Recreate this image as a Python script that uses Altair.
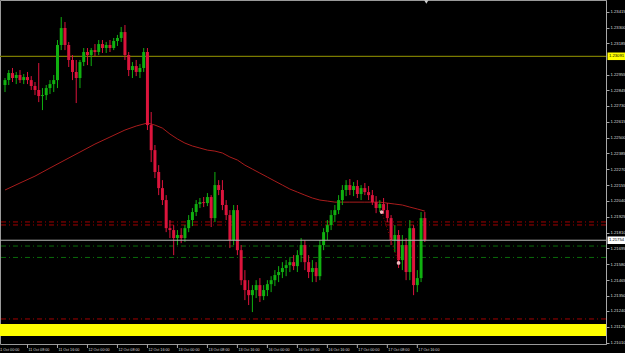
import altair as alt
import pandas as pd

# ---------------- data ----------------
opens = [1.22882, 1.22918, 1.22969, 1.22933, 1.22955, 1.22918, 1.22940, 1.22918, 1.22875, 1.22846,
         1.22802, 1.22809, 1.22860, 1.22889, 1.22918, 1.23173, 1.23296, 1.23173, 1.23064, 1.22977,
         1.22933, 1.23049, 1.23122, 1.23100, 1.23136, 1.23122, 1.23180, 1.23151, 1.23173, 1.23151,
         1.23202, 1.23224, 1.23267, 1.23100, 1.22991, 1.23020, 1.22977, 1.23006, 1.23122, 1.22591,
         1.22409, 1.22250, 1.22133, 1.22046, 1.21842, 1.21828, 1.21770, 1.21792, 1.21770, 1.21842,
         1.21901, 1.21959, 1.22017, 1.22031, 1.22024, 1.22068, 1.21915, 1.22155, 1.22119, 1.22010,
         1.21937, 1.21755, 1.21973, 1.21682, 1.21464, 1.21392, 1.21355, 1.21392, 1.21428, 1.21348,
         1.21392, 1.21435, 1.21464, 1.21501, 1.21523, 1.21552, 1.21573, 1.21595, 1.21566, 1.21646,
         1.21719, 1.21595, 1.21523, 1.21552, 1.21493, 1.21719, 1.21813, 1.21864, 1.21937, 1.21973,
         1.22046, 1.22119, 1.22155, 1.22119, 1.22148, 1.22090, 1.22133, 1.22104, 1.22082, 1.22031,
         1.21988, 1.22017, 1.21973, 1.21915, 1.21755, 1.21792, 1.21610, 1.21719, 1.21523, 1.21842,
         1.21428, 1.21479, 1.21915]
highs = [1.22933, 1.22991, 1.23006, 1.22977, 1.22991, 1.22962, 1.22977, 1.22947, 1.22904, 1.23042,
         1.22860, 1.22882, 1.22918, 1.22955, 1.23209, 1.23376, 1.23340, 1.23195, 1.23100, 1.23064,
         1.23064, 1.23151, 1.23151, 1.23151, 1.23180, 1.23209, 1.23209, 1.23195, 1.23209, 1.23224,
         1.23246, 1.23304, 1.23318, 1.23122, 1.23049, 1.23064, 1.23035, 1.23151, 1.23151, 1.22686,
         1.22446, 1.22300, 1.22191, 1.22082, 1.21901, 1.21864, 1.21828, 1.21842, 1.21864, 1.21937,
         1.21988, 1.22046, 1.22061, 1.22068, 1.22097, 1.22082, 1.22250, 1.22191, 1.22191, 1.22046,
         1.21973, 1.22010, 1.22010, 1.21719, 1.21537, 1.21464, 1.21428, 1.21464, 1.21479, 1.21428,
         1.21464, 1.21493, 1.21537, 1.21566, 1.21595, 1.21610, 1.21624, 1.21646, 1.21682, 1.21770,
         1.21755, 1.21646, 1.21610, 1.21595, 1.21755, 1.21842, 1.21901, 1.21973, 1.22010, 1.22082,
         1.22155, 1.22191, 1.22199, 1.22177, 1.22191, 1.22155, 1.22170, 1.22148, 1.22119, 1.22075,
         1.22046, 1.22061, 1.22024, 1.21937, 1.21864, 1.21828, 1.21792, 1.21770, 1.21901, 1.21864,
         1.21537, 1.21959, 1.21959]
lows = [1.22831, 1.22882, 1.22904, 1.22889, 1.22897, 1.22889, 1.22889, 1.22846, 1.22809, 1.22758,
        1.22700, 1.22773, 1.22817, 1.22831, 1.22860, 1.23136, 1.23136, 1.23013, 1.22918, 1.22751,
        1.22860, 1.23020, 1.23027, 1.23020, 1.23093, 1.23100, 1.23115, 1.23115, 1.23122, 1.23136,
        1.23166, 1.23195, 1.23064, 1.22947, 1.22933, 1.22947, 1.22933, 1.22977, 1.22555, 1.22322,
        1.22206, 1.22082, 1.22010, 1.21813, 1.21770, 1.21646, 1.21719, 1.21733, 1.21741, 1.21813,
        1.21857, 1.21930, 1.21988, 1.21995, 1.22002, 1.21850, 1.21886, 1.22082, 1.21973, 1.21901,
        1.21697, 1.21719, 1.21646, 1.21428, 1.21319, 1.21283, 1.21232, 1.21334, 1.21305, 1.21319,
        1.21348, 1.21377, 1.21421, 1.21450, 1.21479, 1.21493, 1.21523, 1.21537, 1.21523, 1.21595,
        1.21537, 1.21479, 1.21450, 1.21450, 1.21464, 1.21682, 1.21755, 1.21828, 1.21886, 1.21944,
        1.22010, 1.22075, 1.22082, 1.22075, 1.22061, 1.22046, 1.22082, 1.22046, 1.22010, 1.21951,
        1.21959, 1.21944, 1.21886, 1.21719, 1.21668, 1.21552, 1.21537, 1.21464, 1.21464, 1.21355,
        1.21377, 1.21450, 1.21741]
closes = [1.22918, 1.22969, 1.22933, 1.22955, 1.22918, 1.22940, 1.22918, 1.22875, 1.22846, 1.22802,
          1.22809, 1.22860, 1.22889, 1.22918, 1.23173, 1.23296, 1.23173, 1.23064, 1.22977, 1.22933,
          1.23049, 1.23122, 1.23100, 1.23136, 1.23122, 1.23180, 1.23151, 1.23173, 1.23151, 1.23202,
          1.23224, 1.23267, 1.23100, 1.22991, 1.23020, 1.22977, 1.23006, 1.23122, 1.22591, 1.22409,
          1.22250, 1.22133, 1.22046, 1.21842, 1.21828, 1.21770, 1.21792, 1.21770, 1.21842, 1.21901,
          1.21959, 1.22017, 1.22031, 1.22024, 1.22068, 1.21915, 1.22155, 1.22119, 1.22010, 1.21937,
          1.21755, 1.21973, 1.21682, 1.21464, 1.21392, 1.21355, 1.21392, 1.21428, 1.21348, 1.21392,
          1.21435, 1.21464, 1.21501, 1.21523, 1.21552, 1.21573, 1.21595, 1.21566, 1.21646, 1.21719,
          1.21595, 1.21523, 1.21552, 1.21493, 1.21719, 1.21813, 1.21864, 1.21937, 1.21973, 1.22046,
          1.22119, 1.22155, 1.22119, 1.22148, 1.22090, 1.22133, 1.22104, 1.22082, 1.22031, 1.21988,
          1.22017, 1.21973, 1.21915, 1.21755, 1.21792, 1.21610, 1.21719, 1.21523, 1.21842, 1.21428,
          1.21479, 1.21915, 1.21754]

ma_index = [0, 4, 8, 12, 16, 20, 24, 28, 32, 35, 38, 40, 42, 44, 46, 48, 50, 52, 54, 56,
            58, 60, 62, 64, 66, 68, 70, 72, 74, 76, 78, 80, 82, 84, 86, 88, 92, 96, 100,
            102, 104, 106, 108, 110, 112]
ma_values = [1.22119, 1.22170, 1.22220, 1.22279, 1.22337, 1.22395, 1.22453, 1.22504, 1.22555,
             1.22584, 1.22606, 1.22591, 1.22569, 1.22526, 1.22490, 1.22460, 1.22439, 1.22424,
             1.22409, 1.22402, 1.22388, 1.22359, 1.22337, 1.22300, 1.22271, 1.22242, 1.22213,
             1.22184, 1.22155, 1.22126, 1.22104, 1.22082, 1.22061, 1.22046, 1.22039, 1.22031,
             1.22031, 1.22031, 1.22031, 1.22024, 1.22017, 1.22010, 1.21995, 1.21981, 1.21966]

y_ticks = [1.21010, 1.21125, 1.21240, 1.21350, 1.21465, 1.21580, 1.21695, 1.21810, 1.21925,
           1.22040, 1.22155, 1.22270, 1.22385, 1.22500, 1.22615, 1.22730, 1.22845, 1.22955,
           1.23185, 1.23300, 1.23415]

x_label_index = [-2, 6, 14, 22, 30, 38, 46, 54, 62, 70, 78, 86, 94, 102, 110]
x_labels = ["11 Oct 00:00", "11 Oct 08:00", "11 Oct 16:00", "12 Oct 00:00", "12 Oct 08:00",
            "12 Oct 16:00", "13 Oct 00:00", "13 Oct 08:00", "13 Oct 16:00", "16 Oct 00:00",
            "16 Oct 08:00", "16 Oct 16:00", "17 Oct 00:00", "17 Oct 08:00", "17 Oct 16:00"]

red_levels = [1.21887, 1.21865, 1.21182]
green_levels = [1.21712, 1.21629]
key_level = [1.23091]
bid_level = [1.21754]
zone_low = [1.21058]
zone_high = [1.21145]

trade_index = [100.5, 105.0]
trade_price = [1.21959, 1.21589]

# ---------------- build ----------------
W, H = 606, 344
GREEN = "#10b010"
RED = "#dc143c"

candles = pd.DataFrame({
    "idx": list(range(len(opens))),
    "open": opens, "high": highs, "low": lows, "close": closes,
})
candles["dir"] = ["up" if c >= o else "down" for o, c in zip(opens, closes)]

xs = alt.Scale(domain=[0, 159], nice=False, zero=False)
ys = alt.Scale(domain=[1.2100, 1.2350], nice=False, zero=False)
yaxis = alt.Axis(orient="right", values=y_ticks, format=".5f", labelFontSize=4.2,
                 labelFont="Liberation Sans", labelColor="#dcdcdc", tickColor="#a8a8a8",
                 tickSize=3, domainColor="#a8a8a8", labelPadding=1, grid=False, title=None,
                 labelOverlap=False, labelBound=False, labelFlush=False)

def X(field="idx"):
    return alt.X(f"{field}:Q", scale=xs, axis=None)

def Y(field):
    return alt.Y(f"{field}:Q", scale=ys, axis=yaxis)

zone = alt.Chart(pd.DataFrame({"lo": zone_low, "hi": zone_high})).mark_rect(color="#ffff00").encode(
    x=alt.value(0), x2=alt.value(W), y=Y("lo"), y2=alt.Y2("hi"))

red_lines = alt.Chart(pd.DataFrame({"p": red_levels})).mark_rule(
    color="#a00000", strokeWidth=1, strokeDash=[5, 3, 1, 3]).encode(y=Y("p"))
green_lines = alt.Chart(pd.DataFrame({"p": green_levels})).mark_rule(
    color="#0a6a0a", strokeWidth=1, strokeDash=[5, 3, 1, 3]).encode(y=Y("p"))
key_line = alt.Chart(pd.DataFrame({"p": key_level})).mark_rule(
    color="#7a7a00", strokeWidth=1.3).encode(y=Y("p"))
bid_line = alt.Chart(pd.DataFrame({"p": bid_level})).mark_rule(
    color="#b8b8b8", strokeWidth=1).encode(y=Y("p"))

ma = alt.Chart(pd.DataFrame({"idx": ma_index, "ma": ma_values})).mark_line(
    color="#a81c1c", strokeWidth=1).encode(x=X(), y=Y("ma"))

color = alt.Color("dir:N", scale=alt.Scale(domain=["up", "down"], range=[GREEN, RED]), legend=None)
wicks = alt.Chart(candles).mark_rule(strokeWidth=1).encode(
    x=X(), y=Y("low"), y2=alt.Y2("high"), color=color)
bodies = alt.Chart(candles).mark_bar(width=3).encode(
    x=X(), y=Y("open"), y2=alt.Y2("close"), color=color)

trades_df = pd.DataFrame({"idx": trade_index, "p": trade_price})
trade_line = alt.Chart(trades_df).mark_line(color="#8a0000", strokeDash=[1, 2], strokeWidth=1).encode(
    x=X(), y=Y("p"))
trade_pts = alt.Chart(trades_df).mark_point(shape="circle", filled=True, size=14, color="#f2b8c0",
                                            opacity=1).encode(x=X(), y=Y("p"))

BOX = "M-1,-0.42L1,-0.42L1,0.42L-1,0.42Z"
key_box = alt.Chart(pd.DataFrame({"p": key_level})).mark_point(
    shape=BOX, size=324, filled=True, color="#ffff00", opacity=1).encode(x=alt.value(616.5), y=Y("p"))
key_txt = alt.Chart(pd.DataFrame({"p": key_level, "t": ["1.23091"]})).mark_text(
    fontSize=4.2, font="Liberation Sans", color="#000000", align="center", baseline="middle").encode(
    x=alt.value(616.5), y=Y("p"), text="t:N")
bid_box = alt.Chart(pd.DataFrame({"p": bid_level})).mark_point(
    shape=BOX, size=324, filled=True, color="#ffffff", opacity=1).encode(x=alt.value(616.5), y=Y("p"))
bid_txt = alt.Chart(pd.DataFrame({"p": bid_level, "t": ["1.21754"]})).mark_text(
    fontSize=4.2, font="Liberation Sans", color="#000000", align="center", baseline="middle").encode(
    x=alt.value(616.5), y=Y("p"), text="t:N")

xlab_df = pd.DataFrame({"idx": x_label_index, "label": x_labels})
x_ticks = alt.Chart(xlab_df).mark_rule(color="#a8a8a8").encode(
    x=X(), y=alt.value(H), y2=alt.value(H + 4))
x_text = alt.Chart(xlab_df).mark_text(fontSize=3.7, font="Liberation Sans", color="#dcdcdc",
                                      align="left", baseline="middle", dx=1).encode(
    x=X(), y=alt.value(H + 5.5), text="label:N")

shift = alt.Chart(pd.DataFrame({"idx": [112.4]})).mark_point(
    shape="triangle-down", filled=True, size=18, color="#d0d0d0", opacity=1).encode(
    x=X(), y=alt.value(2))

chart = alt.layer(
    red_lines, green_lines, zone, key_line, ma, wicks, bodies, bid_line,
    trade_line, trade_pts, key_box, key_txt, bid_box, bid_txt, x_ticks, x_text, shift
).properties(
    width=W, height=H,
    padding={"left": 0, "top": 0, "right": 19, "bottom": 9},
    autosize=alt.AutoSizeParams(type="none"),
    background="#000000",
).configure_view(
    stroke="#9a9a9a", strokeWidth=1, fill="#000000"
)

chart.save("out.html", embed_options={"renderer": "svg", "actions": False})
